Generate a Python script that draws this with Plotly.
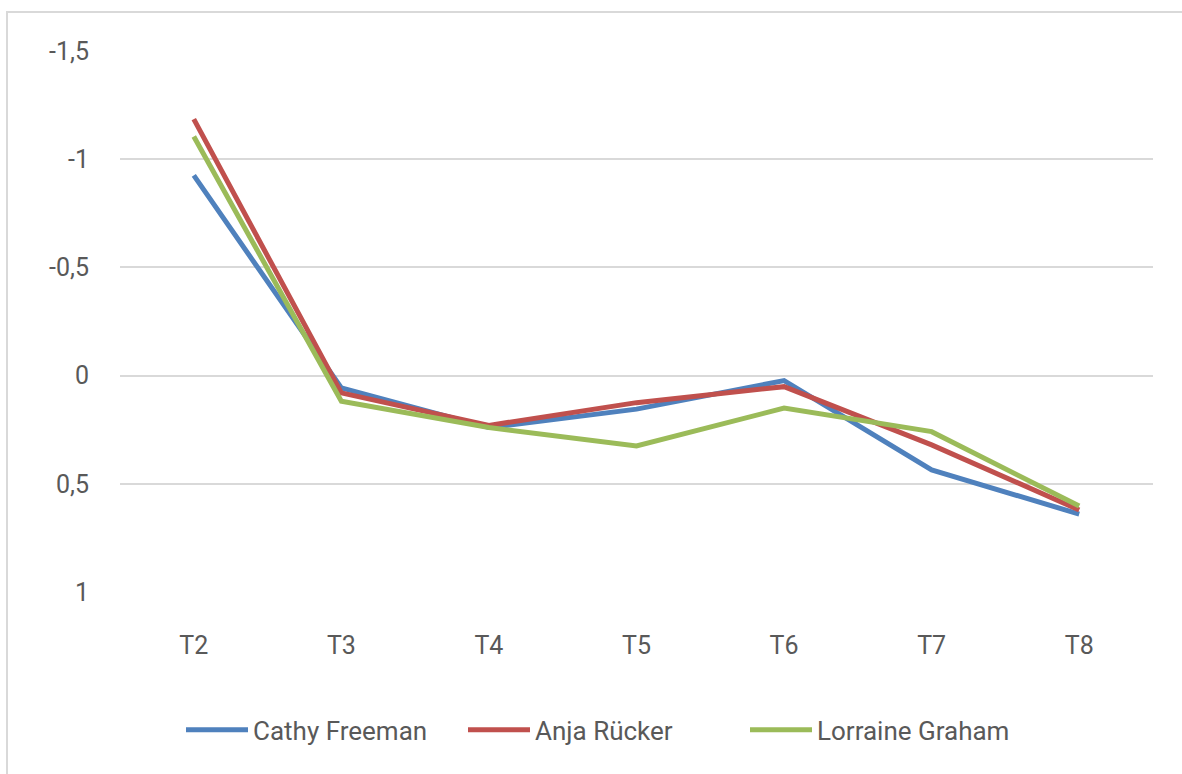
import plotly.graph_objects as go

categories = ["T2", "T3", "T4", "T5", "T6", "T7", "T8"]
cathy_freeman = [-0.925, 0.057, 0.24, 0.155, 0.023, 0.436, 0.64]
anja_ruecker = [-1.185, 0.08, 0.23, 0.125, 0.051, 0.32, 0.621]
lorraine_graham = [-1.105, 0.118, 0.24, 0.325, 0.15, 0.259, 0.603]

y_tickvals = [-1.5, -1, -0.5, 0, 0.5, 1]
y_ticktext = ["-1,5", "-1", "-0,5", "0", "0,5", "1"]

series = [
    ("Cathy Freeman", cathy_freeman, "#4F81BD"),
    ("Anja Rücker", anja_ruecker, "#C0504D"),
    ("Lorraine Graham", lorraine_graham, "#9BBB59"),
]

FONT = "Roboto, 'Noto Sans', sans-serif"
TXT = "#595959"

fig = go.Figure()
for name, vals, color in series:
    fig.add_trace(go.Scatter(
        x=categories, y=vals, name=name, mode="lines",
        line=dict(color=color, width=5, shape="linear"),
    ))

L, R, T, B = 120, 29, 51, 182
W, H = 1182, 774
pw = W - L - R
ph = H - T - B

fig.update_layout(
    width=W, height=H,
    margin=dict(l=L, r=R, t=T, b=B, pad=0, autoexpand=False),
    paper_bgcolor="white", plot_bgcolor="white",
    font=dict(family=FONT, size=26, color=TXT),
    showlegend=True,
    legend=dict(
        orientation="h", x=(181 - L) / pw, xanchor="left", y=-0.255, yanchor="middle",
        font=dict(size=26, color=TXT), itemwidth=62,
        entrywidth=205, entrywidthmode="pixels",
        traceorder="normal", bgcolor="rgba(0,0,0,0)",
    ),
    xaxis=dict(
        type="category", range=[-0.5, 6.5], showgrid=False, zeroline=False,
        showline=False, ticks="", tickfont=dict(size=25, color=TXT),
        ticklabelstandoff=36,
    ),
    yaxis=dict(
        range=[1, -1.5], tickvals=y_tickvals, ticktext=y_ticktext,
        showgrid=True, gridcolor="#D9D9D9", gridwidth=1.5,
        zeroline=False, showline=False, ticks="",
        tickfont=dict(size=25, color=TXT), ticklabelstandoff=30,
    ),
    shapes=[dict(
        type="rect", xref="paper", yref="paper",
        x0=(7 - L) / pw, x1=(1200 - L) / pw,
        y0=(H - B - 800) / ph, y1=1 + (T - 12) / ph,
        line=dict(color="#D9D9D9", width=2), fillcolor="rgba(0,0,0,0)", layer="below",
    )],
)

fig.write_html(
    "out.html",
    config={"displayModeBar": False},
    post_script="document.body.style.margin='0';",
)
